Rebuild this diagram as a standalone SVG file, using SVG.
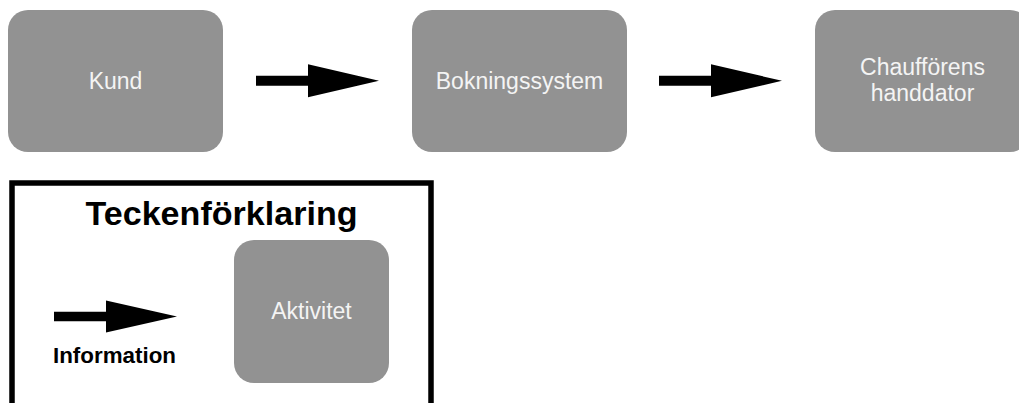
<svg xmlns="http://www.w3.org/2000/svg" width="1019" height="403" viewBox="0 0 1019 403">
  <style>
    .box { fill: #929292; }
    .lbl { font-family: "Liberation Sans", Arial, sans-serif; font-size: 23px; fill: #f4f4f4; text-anchor: middle; }
    .arrow { fill: #000000; }
    .bold { font-family: "Liberation Sans", Arial, sans-serif; font-weight: bold; fill: #000000; text-anchor: middle; }
  </style>
  <defs>
    <path id="arr" d="M0,-5 H52 V-16.5 L123,0 L52,16.5 V5 H0 Z"/>
  </defs>
  <rect width="1019" height="403" fill="#ffffff"/>
  <g id="kund">
    <rect class="box" x="8" y="10" width="215" height="142" rx="20" ry="20"/>
    <text class="lbl" x="115.5" y="89">Kund</text>
  </g>
  <g id="bokningssystem">
    <rect class="box" x="412" y="10" width="215" height="142" rx="20" ry="20"/>
    <text class="lbl" x="519.5" y="89">Bokningssystem</text>
  </g>
  <g id="chauffor">
    <rect class="box" x="815" y="10" width="215" height="142" rx="20" ry="20"/>
    <text class="lbl" x="922.5" y="75">Chaufförens</text>
    <text class="lbl" x="922.5" y="101">handdator</text>
  </g>
  <g id="connectors">
    <use href="#arr" class="arrow" transform="translate(256,80.8)"/>
    <use href="#arr" class="arrow" transform="translate(659,80.8)"/>
  </g>
  <g id="legend">
    <rect x="12" y="183" width="419" height="240" fill="none" stroke="#000000" stroke-width="5.5"/>
    <text class="bold" x="221.5" y="225" font-size="33" textLength="272" lengthAdjust="spacingAndGlyphs">Teckenförklaring</text>
    <use href="#arr" class="arrow" transform="translate(54,316.5) scale(1,0.97)"/>
    <text class="bold" x="114.5" y="363" font-size="21.5" textLength="123" lengthAdjust="spacingAndGlyphs">Information</text>
    <g id="aktivitet">
      <rect class="box" x="234" y="240" width="155" height="143" rx="20" ry="20"/>
      <text class="lbl" x="311.5" y="319">Aktivitet</text>
    </g>
  </g>
</svg>
